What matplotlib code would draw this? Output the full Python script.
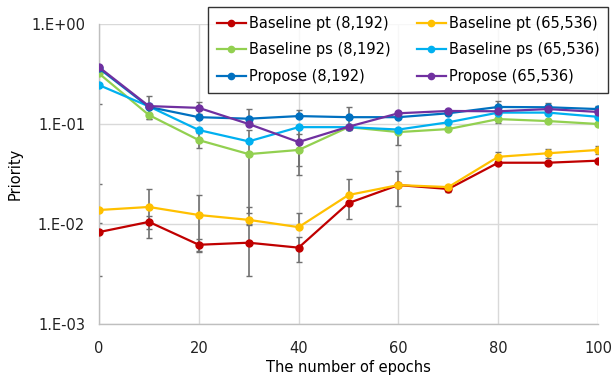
import numpy as np
import matplotlib
matplotlib.use("Agg")
import matplotlib.pyplot as plt
from matplotlib.ticker import FixedLocator, FuncFormatter, NullLocator

epochs = [0, 10, 20, 30, 40, 50, 60, 70, 80, 90, 100]

labels = ["Baseline pt (8,192)", "Baseline pt (65,536)",
          "Baseline ps (8,192)", "Baseline ps (65,536)",
          "Propose (8,192)", "Propose (65,536)"]
colors = ["#C00000", "#FFC000", "#92D050", "#00B0F0", "#0070C0", "#7030A0"]

pt_8k = [0.0083, 0.0105, 0.0062, 0.0065, 0.0058, 0.0162, 0.0245, 0.0224, 0.041, 0.041, 0.043]
pt_65k = [0.0138, 0.0148, 0.0123, 0.0110, 0.0093, 0.0195, 0.0245, 0.0234, 0.047, 0.051, 0.055]
ps_8k = [0.32, 0.123, 0.069, 0.050, 0.055, 0.093, 0.083, 0.089, 0.112, 0.107, 0.100]
ps_65k = [0.245, 0.150, 0.087, 0.067, 0.093, 0.093, 0.088, 0.104, 0.130, 0.130, 0.118]
prop_8k = [0.36, 0.148, 0.117, 0.113, 0.120, 0.117, 0.117, 0.128, 0.148, 0.147, 0.141]
prop_65k = [0.37, 0.151, 0.145, 0.100, 0.066, 0.094, 0.128, 0.135, 0.134, 0.141, 0.132]

# error bars (lower, upper)
pt_8k_err = ([0.0053, 0.0015, 0.0008, 0.0035, 0.0016, 0.005, 0.0, 0.0015, 0.0, 0.0, 0.0],
             [0.0167, 0.0015, 0.0008, 0.0035, 0.0016, 0.0, 0.0, 0.0015, 0.0, 0.0, 0.0])
pt_65k_err = ([0.0035, 0.0076, 0.007, 0.0012, 0.0, 0.0, 0.0095, 0.0, 0.005, 0.005, 0.005],
              [0.0, 0.0076, 0.007, 0.0038, 0.0037, 0.0085, 0.0095, 0.0, 0.005, 0.005, 0.005])
ps_8k_err = ([0.0, 0.01, 0.012, 0.037, 0.024, 0.0, 0.021, 0.0, 0.01, 0.0, 0.0],
             [0.0, 0.0, 0.012, 0.037, 0.024, 0.0, 0.0, 0.0, 0.0, 0.0, 0.0])
ps_65k_err = ([0.085, 0.0, 0.0, 0.0, 0.0, 0.0, 0.0, 0.0, 0.0, 0.0, 0.0],
              [0.135, 0.0, 0.0, 0.0, 0.0, 0.0, 0.0, 0.0, 0.0, 0.0, 0.0])
prop_8k_err = ([0.0, 0.0, 0.0, 0.0, 0.0, 0.03, 0.0, 0.0, 0.0, 0.015, 0.01],
               [0.0, 0.0, 0.0, 0.028, 0.018, 0.03, 0.0, 0.0, 0.02, 0.015, 0.01])
prop_65k_err = ([0.0, 0.04, 0.02, 0.0, 0.028, 0.0, 0.0, 0.0, 0.0, 0.0, 0.0],
                [0.0, 0.04, 0.02, 0.0, 0.028, 0.0, 0.0, 0.0, 0.0, 0.0, 0.0])

series = [pt_8k, pt_65k, ps_8k, ps_65k, prop_8k, prop_65k]
errors = [pt_8k_err, pt_65k_err, ps_8k_err, ps_65k_err, prop_8k_err, prop_65k_err]

plt.rcParams["font.family"] = ["DejaVu Sans"]

fig = plt.figure(figsize=(6.13, 3.78), dpi=100)
ax = fig.add_axes([99 / 613, 54 / 378, 499 / 613, 300 / 378])

for vals, err in zip(series, errors):
    ax.errorbar(epochs, vals, yerr=[err[0], err[1]], fmt="none",
                ecolor="#707070", elinewidth=1.2, capsize=2.5, capthick=1.0, zorder=2)
handles = []
for vals, col, lab in zip(series, colors, labels):
    h, = ax.plot(epochs, vals, color=col, marker="o", markersize=5, linewidth=1.6,
                 label=lab, zorder=3)
    handles.append(h)

ax.set_yscale("log")
ax.set_ylim(1e-3, 1)
ax.set_xlim(0, 100)
ax.yaxis.set_major_locator(FixedLocator([1e-3, 1e-2, 1e-1, 1]))
ax.yaxis.set_minor_locator(NullLocator())
ax.yaxis.set_major_formatter(FuncFormatter(lambda v, p: "1.E%+03d" % int(round(np.log10(v)))))
ax.set_xticks([0, 20, 40, 60, 80, 100])

ax.grid(True, color="#d9d9d9", linewidth=1.0)
ax.set_axisbelow(True)
for s in ["top", "right"]:
    ax.spines[s].set_visible(False)
for s in ["left", "bottom"]:
    ax.spines[s].set_color("#bfbfbf")
    ax.spines[s].set_linewidth(1.0)
ax.tick_params(axis="y", length=0, labelsize=10.5, colors="#222222", pad=10)
ax.tick_params(axis="x", length=0, labelsize=10.5, colors="#222222", pad=12)

ax.set_xlabel("The number of epochs", fontsize=10.5, labelpad=3)
ax.set_ylabel("Priority", fontsize=10.5, labelpad=6)

# legend is filled row by row in the reference
order = [0, 2, 4, 1, 3, 5]
leg = ax.legend([handles[i] for i in order], [labels[i] for i in order],
                ncol=2, loc="upper right", bbox_to_anchor=(608 / 613, 371 / 378),
                bbox_transform=fig.transFigure, borderaxespad=0.0, fontsize=10.5,
                frameon=True, fancybox=False, edgecolor="black", handlelength=2.0,
                handletextpad=0.2, columnspacing=1.8, borderpad=0.6,
                labelspacing=0.8, markerscale=0.9)
leg.get_frame().set_linewidth(1.0)
leg.set_zorder(5)

fig.savefig("out.png", dpi=100)
